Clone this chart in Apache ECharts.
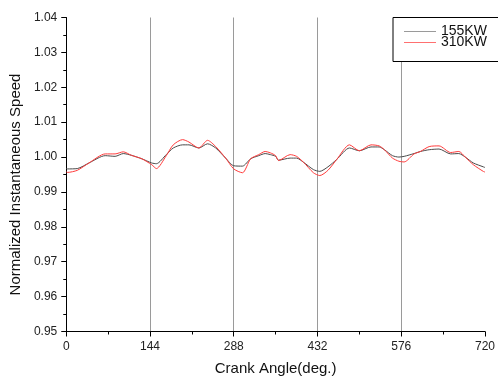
<!DOCTYPE html>
<html>
<head>
<meta charset="utf-8">
<script src="https://cdn.jsdelivr.net/npm/echarts@6/dist/echarts.min.js"></script>
<style>
  html, body { margin: 0; padding: 0; background: #fff; }
  #chart { width: 498px; height: 383px; }
</style>
</head>
<body>
<div id="chart"></div>
<script>
// Crank angle samples (deg.)
const crankAngle = [0, 2, 19, 39, 67, 84, 98, 112, 130, 147, 155, 172, 184, 200, 211, 228, 243, 257, 274, 288,
  303, 317, 331, 342, 351, 360, 365, 385, 396, 408, 425, 436, 450, 465, 487, 504, 524, 538, 547, 561,
  572, 581, 598, 609, 624, 641, 661, 675, 686, 700, 717, 720];

// Normalized instantaneous speed at 155 kW
const speed155 = [0.9968, 0.9966, 0.9967, 0.9983, 1.0004, 1.0002, 1.0010, 1.0005, 0.9995, 0.9983, 0.9981, 1.0007, 1.0026, 1.0035, 1.0035, 1.0026, 1.0038, 1.0026, 0.9997, 0.9975,
  0.9974, 0.9995, 1.0004, 1.0010, 1.0007, 1.0002, 0.9991, 0.9997, 0.9997, 0.9985, 0.9964, 0.9959, 0.9972, 0.9993, 1.0026, 1.0018, 1.0029, 1.0029, 1.0021, 1.0004,
  1.0000, 1.0002, 1.0010, 1.0016, 1.0021, 1.0023, 1.0009, 1.0010, 1.0000, 0.9983, 0.9972, 0.9970];

// Normalized instantaneous speed at 310 kW
const speed310 = [0.9958, 0.9956, 0.9962, 0.9983, 1.0009, 1.0009, 1.0015, 1.0005, 0.9995, 0.9978, 0.9967, 1.0004, 1.0035, 1.0050, 1.0043, 1.0026, 1.0048, 1.0030, 0.9997, 0.9966,
  0.9955, 0.9995, 1.0007, 1.0016, 1.0012, 1.0004, 0.9990, 1.0007, 1.0002, 0.9985, 0.9955, 0.9947, 0.9962, 0.9993, 1.0035, 1.0018, 1.0035, 1.0032, 1.0021, 0.9997,
  0.9988, 0.9986, 1.0009, 1.0016, 1.0030, 1.0032, 1.0013, 1.0016, 1.0000, 0.9978, 0.9959, 0.9957];

const seriesNames = ['155KW', '310KW'];
const xTicks = [0, 144, 288, 432, 576, 720];

const pairs = vals => crankAngle.map((a, i) => [a, vals[i]]);
const FONT = 'Liberation Sans, Arial, sans-serif';

const chart = echarts.init(document.getElementById('chart'), null, { renderer: 'canvas' });
chart.setOption({
  animation: false,
  backgroundColor: '#fff',
  grid: { left: 64, right: 11.5, top: 17.5, bottom: 51.5, containLabel: false },
  legend: {
    data: seriesNames,
    orient: 'vertical',
    left: 393,
    top: 17.5,
    padding: [7, 12, 12, 11],
    icon: 'rect',
    itemWidth: 32,
    itemHeight: 1,
    itemGap: -3,
    borderColor: '#000',
    borderWidth: 1,
    backgroundColor: '#fff',
    textStyle: { fontFamily: FONT, fontSize: 14, color: '#111', lineHeight: 11, padding: 0 }
  },
  xAxis: {
    type: 'value',
    min: xTicks[0],
    max: xTicks[xTicks.length - 1],
    interval: 144,
    name: 'Crank Angle(deg.)',
    nameLocation: 'middle',
    nameGap: 30,
    nameTextStyle: { fontFamily: FONT, fontSize: 15, color: '#111' },
    axisLine: { show: true, lineStyle: { color: '#000', width: 1 } },
    axisTick: { show: true, inside: false, length: 5, lineStyle: { color: '#000' } },
    minorTick: { show: true, splitNumber: 2, length: 3, lineStyle: { color: '#000' } },
    axisLabel: { fontFamily: FONT, fontSize: 12, color: '#222', margin: 9 },
    splitLine: { show: true, showMinLine: false, showMaxLine: false, lineStyle: { color: '#9a9a9a', width: 1 } }
  },
  yAxis: {
    type: 'value',
    min: 0.95,
    max: 1.04,
    interval: 0.01,
    name: 'Normalized Instantaneous Speed',
    nameLocation: 'middle',
    nameGap: 36,
    nameTextStyle: { fontFamily: FONT, fontSize: 15, color: '#111', padding: [0, 20, 0, 0] },
    axisLine: { show: true, lineStyle: { color: '#000', width: 1 } },
    axisTick: { show: true, inside: false, length: 5, lineStyle: { color: '#000' } },
    minorTick: { show: true, splitNumber: 2, length: 3, lineStyle: { color: '#000' } },
    axisLabel: { fontFamily: FONT, fontSize: 12, color: '#222', margin: 9, formatter: v => v.toFixed(2) },
    splitLine: { show: false }
  },
  series: [
    {
      name: seriesNames[0],
      type: 'line',
      data: pairs(speed155),
      symbol: 'none',
      smooth: 0.25,
      lineStyle: { color: '#4a4a4a', width: 1 },
      itemStyle: { color: '#9a9a9a' }
    },
    {
      name: seriesNames[1],
      type: 'line',
      data: pairs(speed310),
      symbol: 'none',
      smooth: 0.25,
      lineStyle: { color: '#ff3b3b', width: 1 },
      itemStyle: { color: '#ff7070' }
    }
  ]
});
</script>
</body>
</html>
